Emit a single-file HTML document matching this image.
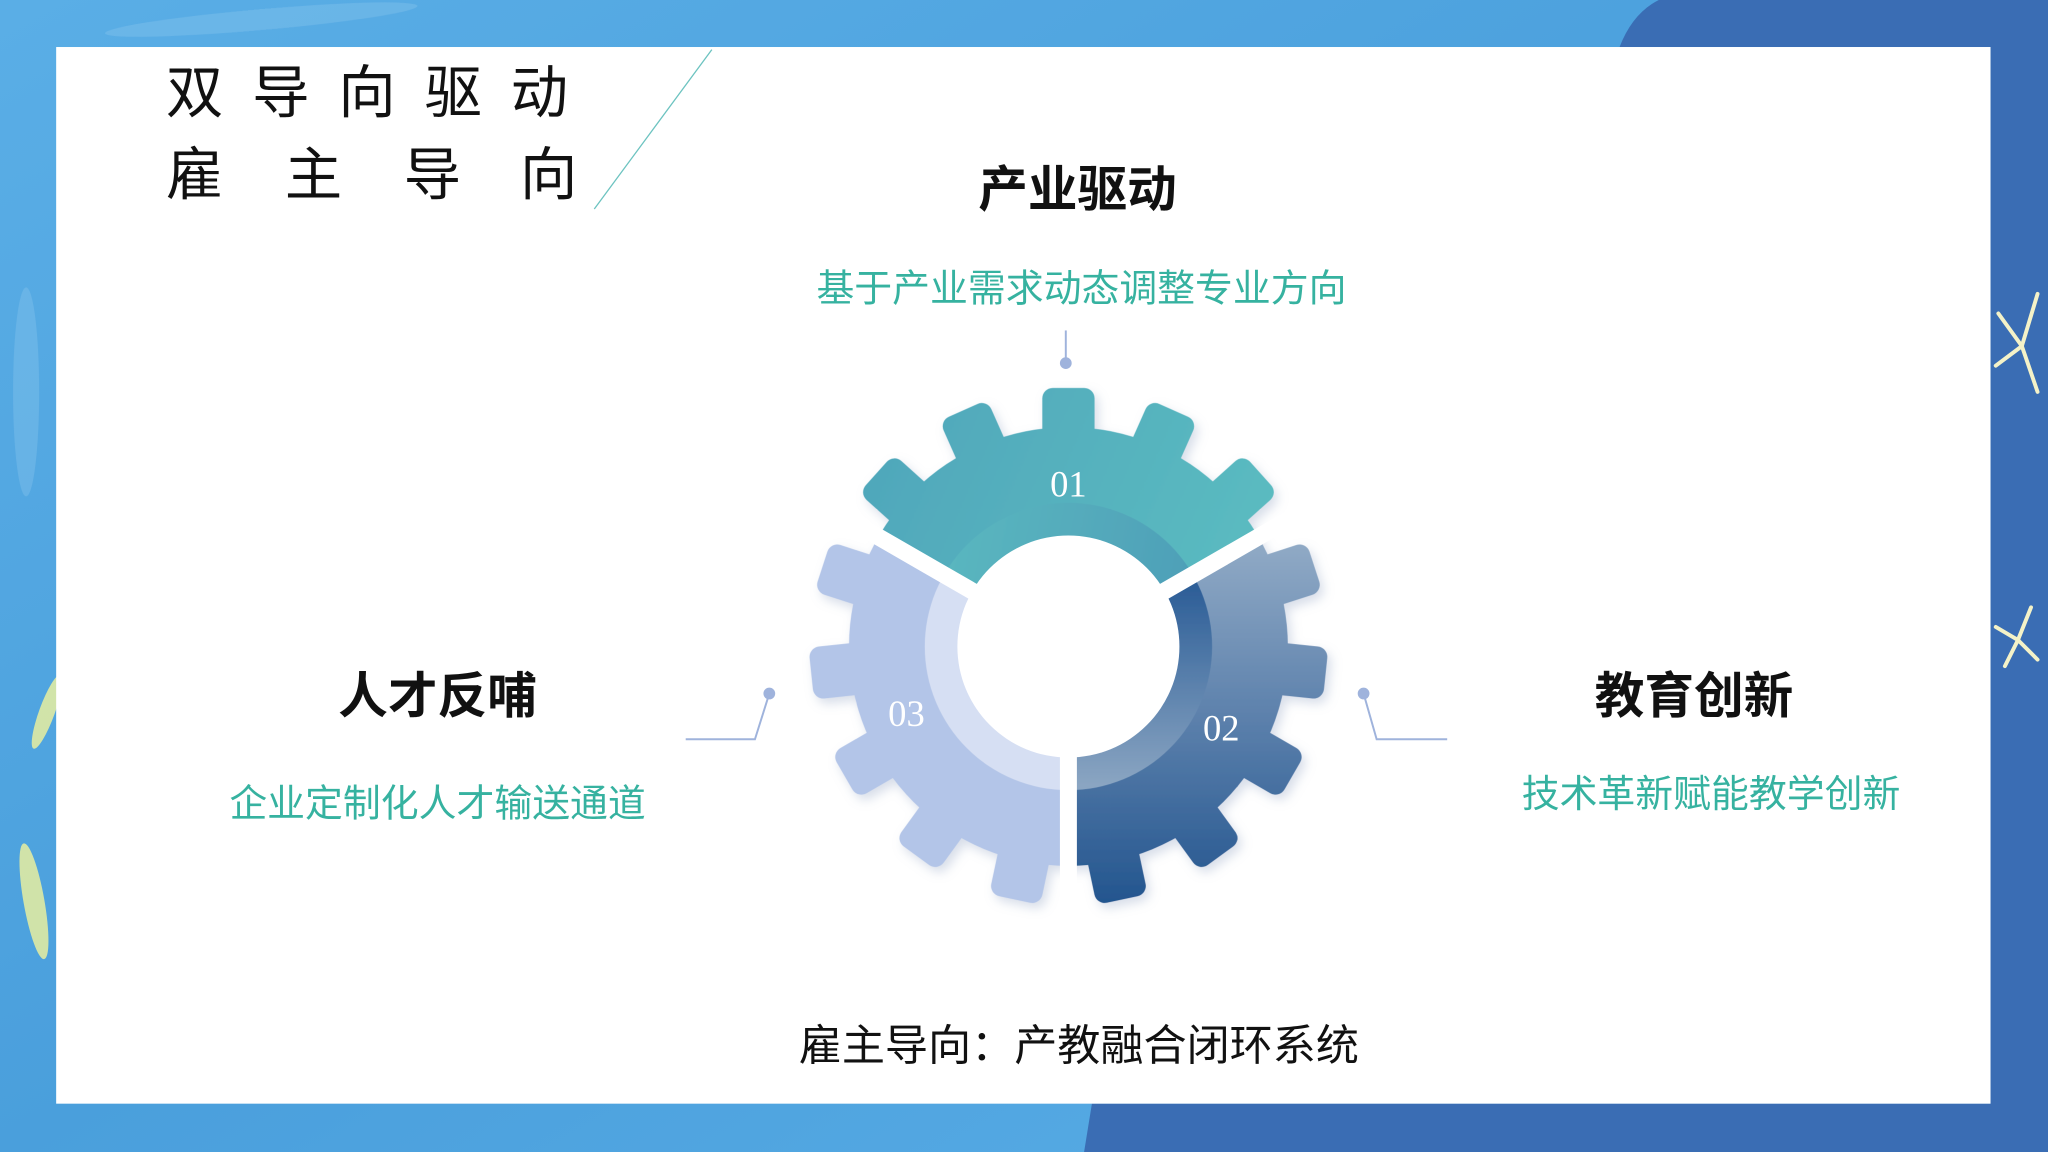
<!DOCTYPE html>
<html><head><meta charset="utf-8"><style>
html,body{margin:0;padding:0;width:2048px;height:1152px;overflow:hidden;background:#fff}
svg{display:block}
text{font-family:"Liberation Sans","Noto Sans CJK SC",sans-serif}
</style></head><body>
<svg width="2048" height="1152" viewBox="0 0 1568 882" xmlns="http://www.w3.org/2000/svg">
<defs>
<linearGradient id="bg" x1="0" y1="0" x2="1" y2="1">
<stop offset="0" stop-color="#5aaee6"/><stop offset="0.5" stop-color="#4a9fdc"/><stop offset="1" stop-color="#5cb0e8"/></linearGradient>
<linearGradient id="g1" gradientUnits="userSpaceOnUse" x1="660" y1="300" x2="980" y2="440">
<stop offset="0" stop-color="#4fa6bb"/><stop offset="1" stop-color="#5cbdc1"/></linearGradient>
<linearGradient id="r1" gradientUnits="userSpaceOnUse" x1="720" y1="400" x2="920" y2="440">
<stop offset="0" stop-color="#5bb8c0"/><stop offset="1" stop-color="#4e9fb8"/></linearGradient>
<linearGradient id="g2" gradientUnits="userSpaceOnUse" x1="0" y1="420" x2="0" y2="690">
<stop offset="0" stop-color="#8fa9c5"/><stop offset="0.5" stop-color="#5a7fab"/><stop offset="1" stop-color="#24568f"/></linearGradient>
<linearGradient id="r2" gradientUnits="userSpaceOnUse" x1="0" y1="450" x2="0" y2="600">
<stop offset="0" stop-color="#2e5f98"/><stop offset="1" stop-color="#8aa5c2"/></linearGradient>
<clipPath id="c1"><polygon points="818,495 558,345 558,195 1078,195 1078,345"/></clipPath>
<clipPath id="c2"><polygon points="818,495 1078,345 1078,900 818,900"/></clipPath>
<clipPath id="c3"><polygon points="818,495 818,900 558,900 558,345"/></clipPath>
<g id="teeth">
<rect x="-20" y="-198" width="40" height="50" rx="8"/>
<rect x="-20" y="-198" width="40" height="50" rx="8" transform="rotate(24)"/>
<rect x="-20" y="-198" width="40" height="50" rx="8" transform="rotate(48)"/>
<rect x="-20" y="-198" width="40" height="50" rx="8" transform="rotate(72)"/>
<rect x="-20" y="-198" width="40" height="50" rx="8" transform="rotate(96)"/>
<rect x="-20" y="-198" width="40" height="50" rx="8" transform="rotate(120)"/>
<rect x="-20" y="-198" width="40" height="50" rx="8" transform="rotate(144)"/>
<rect x="-20" y="-198" width="40" height="50" rx="8" transform="rotate(168)"/>
<rect x="-20" y="-198" width="40" height="50" rx="8" transform="rotate(192)"/>
<rect x="-20" y="-198" width="40" height="50" rx="8" transform="rotate(216)"/>
<rect x="-20" y="-198" width="40" height="50" rx="8" transform="rotate(240)"/>
<rect x="-20" y="-198" width="40" height="50" rx="8" transform="rotate(264)"/>
<rect x="-20" y="-198" width="40" height="50" rx="8" transform="rotate(288)"/>
<rect x="-20" y="-198" width="40" height="50" rx="8" transform="rotate(312)"/>
<rect x="-20" y="-198" width="40" height="50" rx="8" transform="rotate(336)"/>
<circle r="168"/>
</g>
<mask id="gm" maskUnits="userSpaceOnUse" x="0" y="0" width="1568" height="882"><use href="#teeth" transform="translate(818,495)" fill="#fff"/></mask>
<filter id="sh" x="-20%" y="-20%" width="140%" height="140%"><feDropShadow dx="3" dy="4" stdDeviation="4" flood-color="#8fa0c0" flood-opacity="0.35"/></filter>
</defs>
<rect width="1568" height="882" fill="url(#bg)"/>
<path d="M1270,0 L1568,0 L1568,882 L830,882 L836,845 L1524,845 L1524,36 L1240,36 Q1250,10 1270,0Z" fill="#3a6db4"/>
<g fill="#8ec8ee" opacity="0.35">
<ellipse cx="200" cy="15" rx="120" ry="8" transform="rotate(-5 200 15)"/>
<ellipse cx="20" cy="300" rx="10" ry="80"/>
</g>
<g fill="#e8efa0" opacity="0.85">
<ellipse cx="26" cy="690" rx="8" ry="45" transform="rotate(-10 26 690)"/>
<ellipse cx="36" cy="545" rx="6" ry="30" transform="rotate(20 36 545)"/>
</g>
<g stroke="#f4f2c8" stroke-width="3" stroke-linecap="round">
<line x1="1548" y1="265" x2="1560" y2="225"/><line x1="1548" y1="265" x2="1530" y2="240"/><line x1="1548" y1="265" x2="1528" y2="280"/><line x1="1548" y1="265" x2="1560" y2="300"/>
<line x1="1545" y1="490" x2="1555" y2="465"/><line x1="1545" y1="490" x2="1528" y2="480"/><line x1="1545" y1="490" x2="1535" y2="510"/><line x1="1545" y1="490" x2="1560" y2="505"/>
</g>
<rect x="43" y="36" width="1481" height="809" fill="#fff"/>
<line x1="545" y1="38" x2="455" y2="160" stroke="#6cc3c0" stroke-width="1"/>
<text x="127" y="86" font-size="44" fill="#111" letter-spacing="22">双导向驱动</text>
<text font-size="44" fill="#111" y="149"><tspan x="127">雇</tspan><tspan x="218">主</tspan><tspan x="309">导</tspan><tspan x="398">向</tspan></text>
<text x="825" y="158" font-size="38" font-weight="bold" fill="#111" text-anchor="middle">产业驱动</text>
<text x="828" y="231" font-size="29" fill="#36b2a0" text-anchor="middle">基于产业需求动态调整专业方向</text>
<text x="335" y="546" font-size="38" font-weight="bold" fill="#111" text-anchor="middle">人才反哺</text>
<text x="335" y="625" font-size="29" fill="#36b2a0" text-anchor="middle">企业定制化人才输送通道</text>
<text x="1297" y="546" font-size="38" font-weight="bold" fill="#111" text-anchor="middle">教育创新</text>
<text x="1310" y="618" font-size="29" fill="#36b2a0" text-anchor="middle">技术革新赋能教学创新</text>
<text x="826" y="812" font-size="33" fill="#111" text-anchor="middle">雇主导向：产教融合闭环系统</text>
<g stroke="#9fb3dc" stroke-width="1.5" fill="none">
<line x1="816" y1="253" x2="816" y2="277"/>
<polyline points="589,531 578,566 525,566"/>
<polyline points="1044,531 1054,566 1108,566"/>
</g>
<g fill="#9fb3dc"><circle cx="816" cy="278" r="4.5"/><circle cx="589" cy="531" r="4.5"/><circle cx="1044" cy="531" r="4.5"/></g>
<g filter="url(#sh)">
<g clip-path="url(#c1)">
<rect x="558" y="250" width="520" height="500" fill="url(#g1)" mask="url(#gm)"/>
<circle cx="818" cy="495" r="110" fill="url(#r1)"/>
</g>
<g clip-path="url(#c2)">
<rect x="558" y="250" width="520" height="500" fill="url(#g2)" mask="url(#gm)"/>
<circle cx="818" cy="495" r="110" fill="url(#r2)"/>
</g>
<g clip-path="url(#c3)">
<rect x="558" y="250" width="520" height="500" fill="#b3c5e8" mask="url(#gm)"/>
<circle cx="818" cy="495" r="110" fill="#d6dff3"/>
</g>
</g>
<circle cx="818" cy="495" r="85" fill="#fff"/>
<g stroke="#fff" stroke-width="13">
<line x1="818" y1="495" x2="558" y2="345"/>
<line x1="818" y1="495" x2="1078" y2="345"/>
<line x1="818" y1="495" x2="818" y2="720"/>
</g>
<g font-size="28" fill="#fff" text-anchor="middle">
<text x="818" y="380" style="font-family:'Liberation Serif',serif">01</text>
<text x="694" y="556" style="font-family:'Liberation Serif',serif">03</text>
<text x="935" y="567" style="font-family:'Liberation Serif',serif">02</text>
</g>
</svg>
</body></html>
